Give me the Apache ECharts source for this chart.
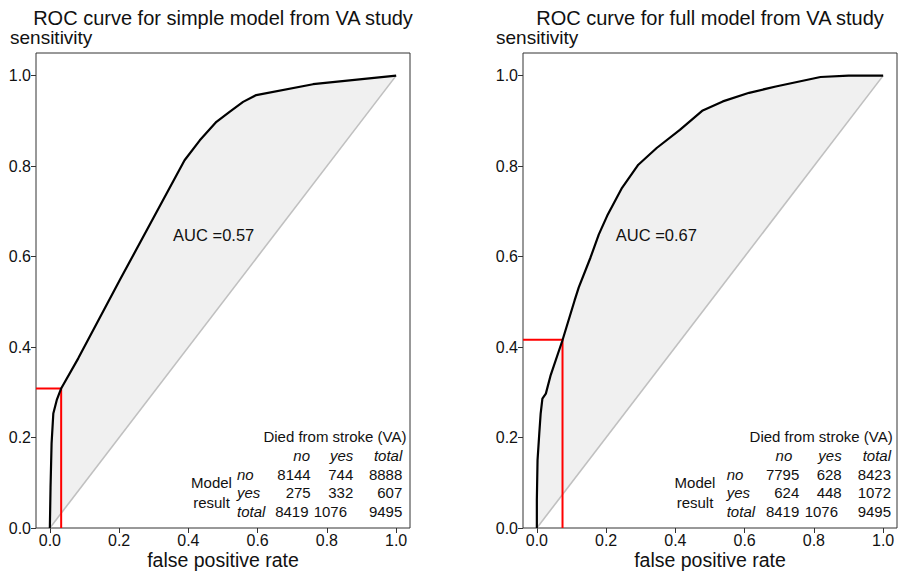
<!DOCTYPE html>
<html><head><meta charset="utf-8">
<script src="https://cdn.jsdelivr.net/npm/echarts@6/dist/echarts.min.js"></script>
<style>html,body{margin:0;padding:0;background:#fff}#c{width:899px;height:574px}</style>
</head><body><div id="c"></div>
<script>
// ---------- data ----------
const titles = ['ROC curve for simple model from VA study', 'ROC curve for full model from VA study'];
const yAxisTitle = 'sensitivity';
const xAxisTitle = 'false positive rate';
const xTicks = [0, 0.2, 0.4, 0.6, 0.8, 1.0];
const yTicks = [0, 0.2, 0.4, 0.6, 0.8, 1.0];

const fprSimple = [0, 0.002, 0.005, 0.010, 0.020, 0.033, 0.082, 0.202, 0.389, 0.433, 0.481, 0.519, 0.558, 0.596, 0.760, 1.0];
const tprSimple = [0, 0.090, 0.187, 0.253, 0.283, 0.309, 0.375, 0.548, 0.813, 0.857, 0.898, 0.920, 0.942, 0.957, 0.981, 1.0];

const fprFull = [0, 0.000, 0.002, 0.007, 0.011, 0.016, 0.026, 0.040, 0.074, 0.109, 0.121, 0.155, 0.179, 0.203, 0.246, 0.293, 0.346, 0.413, 0.479, 0.537, 0.613, 0.690, 0.819, 0.900, 1.0];
const tprFull = [0, 0.062, 0.150, 0.209, 0.253, 0.286, 0.297, 0.338, 0.415, 0.503, 0.532, 0.598, 0.649, 0.690, 0.752, 0.803, 0.840, 0.880, 0.923, 0.943, 0.962, 0.976, 0.997, 1.0, 1.0];

const aucLabels = ['AUC =0.57', 'AUC =0.67'];

const tableHeader = 'Died from stroke (VA)';
const colLabels = ['no', 'yes', 'total'];
const rowLabels = ['no', 'yes', 'total'];
const rowGroupLabel = ['Model', 'result'];
const tableSimple = [[8144, 744, 8888], [275, 332, 607], [8419, 1076, 9495]];
const tableFull = [[7795, 628, 8423], [624, 448, 1072], [8419, 1076, 9495]];

// ---------- layout / style ----------
const FONT = '"Liberation Sans", Arial, Helvetica, sans-serif';
const grids = [
  { left: 36, top: 53, width: 374, height: 475 },
  { left: 523, top: 53, width: 374, height: 475 }
];
const aucAt = [[0.473, 0.647], [0.345, 0.647]];
// table layout: offsets from the grid's right edge (px)
const tableLayout = [
  { header: -3.5, colHead: [-100, -56.7, -7.7], col: [-99.3, -56.7, -7.7], colTotal: [-101.5, -63, -7.7], rowLab: -173, group: -198.5 },
  { header: -4.3, colHead: [-104.7, -55.3, -6], col: [-97.7, -55.3, -6], colTotal: [-97.7, -59, -6], rowLab: -170.3, group: -202 }
];
const tableY = { header: 436, colHead: 455, rows: [474, 492.5, 511], group: [482.5, 502] };

const curves = [
  fprSimple.map((x, i) => [x, tprSimple[i]]),
  fprFull.map((x, i) => [x, tprFull[i]])
];
const tables = [tableSimple, tableFull];

const chart = echarts.init(document.getElementById('c'), null, { renderer: 'svg' });

const xAxes = [], yAxes = [], series = [], graphics = [];

grids.forEach((g, i) => {
  xAxes.push({
    type: 'value', gridIndex: i, min: -0.04, max: 1.04,
    axisLine: { show: false, onZero: false },
    axisTick: { show: true, inside: false, length: 5, customValues: xTicks, lineStyle: { color: '#333', width: 1 } },
    axisLabel: { show: true, customValues: xTicks, margin: 4, fontSize: 16, fontFamily: FONT, color: '#111',
      formatter: v => v.toFixed(1) },
    splitLine: { show: false }
  });
  yAxes.push({
    type: 'value', gridIndex: i, min: 0, max: 1.05,
    axisLine: { show: false, onZero: false },
    axisTick: { show: true, inside: false, length: 5, customValues: yTicks, lineStyle: { color: '#333', width: 1 } },
    axisLabel: { show: true, customValues: yTicks, margin: 5, fontSize: 16, fontFamily: FONT, color: '#111',
      formatter: v => v.toFixed(1) },
    splitLine: { show: false }
  });

  const curve = curves[i];
  series.push({
    type: 'custom', xAxisIndex: i, yAxisIndex: i, silent: true, z: 1,
    data: [[0.5, 0.5]],
    renderItem: (params, api) => ({
      type: 'polygon',
      shape: { points: curve.map(p => api.coord(p)) },
      style: { fill: '#f0f0f0', stroke: 'none' }
    })
  });
  series.push({
    type: 'line', xAxisIndex: i, yAxisIndex: i, silent: true, z: 2,
    data: [[0, 0], [1, 1]], symbol: 'none',
    lineStyle: { color: '#c0c0c0', width: 1.6 }
  });
  const t = tables[i];
  const fpr = t[1][0] / t[2][0];
  const sens = t[1][1] / t[2][1];
  series.push({
    type: 'line', xAxisIndex: i, yAxisIndex: i, silent: true, z: 3,
    data: [[-0.04, sens], [fpr, sens], [fpr, 0]], symbol: 'none',
    lineStyle: { color: '#ff0000', width: 2 }
  });
  series.push({
    type: 'line', xAxisIndex: i, yAxisIndex: i, silent: true, z: 4,
    data: curve, symbol: 'none', smooth: false,
    lineStyle: { color: '#000', width: 2.2 }
  });
  series.push({
    type: 'custom', xAxisIndex: i, yAxisIndex: i, silent: true, z: 5,
    data: [aucAt[i]],
    renderItem: (params, api) => {
      const p = api.coord([api.value(0), api.value(1)]);
      return {
        type: 'text', x: p[0], y: p[1],
        style: { text: aucLabels[i], font: '16.5px ' + FONT, fill: '#111',
          textAlign: 'center', align: 'center', textVerticalAlign: 'middle', verticalAlign: 'middle' }
      };
    }
  });

  // texts
  const cx = g.left + g.width / 2;
  const right = g.left + g.width;
  const txt = (x, y, text, size, align, italic) => ({
    type: 'text', x: x, y: y, silent: true,
    style: {
      text: text, font: (italic ? 'italic ' : '') + size + 'px ' + FONT,
      fill: '#111', textAlign: align, align: align, textVerticalAlign: 'middle', verticalAlign: 'middle'
    }
  });
  graphics.push(txt(cx, 17.5, titles[i], 20, 'center'));
  graphics.push(txt(i === 0 ? 10 : 496, 37.5, yAxisTitle, 19, 'left'));
  graphics.push(txt(cx, 559.5, xAxisTitle, 19.5, 'center'));

  const L = tableLayout[i];
  graphics.push(txt(right + L.header, tableY.header, tableHeader, 15, 'right'));
  colLabels.forEach((c, k) => graphics.push(txt(right + L.colHead[k], tableY.colHead, c, 15, 'right', true)));
  rowLabels.forEach((r, j) => {
    graphics.push(txt(right + L.rowLab, tableY.rows[j], r, 15, 'left', true));
    const cols = j === 2 ? L.colTotal : L.col;
    t[j].forEach((v, k) => graphics.push(txt(right + cols[k], tableY.rows[j], String(v), 15, 'right')));
  });
  rowGroupLabel.forEach((s, j) => graphics.push(txt(right + L.group, tableY.group[j], s, 15, 'center')));
});

chart.setOption({
  animation: false,
  backgroundColor: '#fff',
  grid: grids.map(g => Object.assign({ show: true, borderColor: '#333', borderWidth: 1, backgroundColor: 'transparent', containLabel: false, outerBoundsMode: 'none' }, g)),
  xAxis: xAxes,
  yAxis: yAxes,
  series: series,
  graphic: { elements: graphics }
});
</script>
</body></html>
